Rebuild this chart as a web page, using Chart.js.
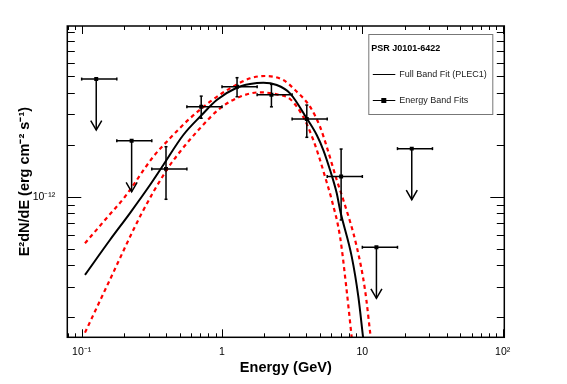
<!DOCTYPE html>
<html>
<head>
<meta charset="utf-8">
<script src="https://cdn.jsdelivr.net/npm/chart.js@4/dist/chart.umd.min.js"></script>
<style>
html, body { margin: 0; padding: 0; background: #fff; }
#wrap { width: 567px; height: 384px; }
</style>
</head>
<body>
<div id="wrap"><canvas id="grafico" width="567" height="384"></canvas></div>
<script>
const ctx = document.getElementById('grafico')

const titulo = 'PSR J0101-6422'

// energy band fits: E (GeV), E2dN/dE (erg cm-2 s-1)
const bandE = [0.399, 0.711, 1.28, 2.25, 4.02, 7.06]
const bandFlux = [1.45e-12, 3.32e-12, 4.34e-12, 3.90e-12, 2.82e-12, 1.31e-12]
const bandFluxLo = [0.966e-12, 2.85e-12, 3.80e-12, 3.32e-12, 2.21e-12, 0.733e-12]
const bandFluxHi = [1.95e-12, 3.83e-12, 4.90e-12, 4.48e-12, 3.40e-12, 1.89e-12]
const bandElo = [0.316, 0.562, 1, 1.78, 3.16, 5.62]
const bandEhi = [0.562, 1, 1.78, 3.16, 5.62, 10]

// upper limits
const ulE = [0.127, 0.227, 12.6, 22.5]
const ulFlux = [4.81e-12, 2.11e-12, 5.09e-13, 1.90e-12]
const ulElo = [0.1, 0.178, 10, 17.8]
const ulEhi = [0.178, 0.316, 17.8, 31.6]

// full band fit (PLEC1)
const fitE = [0.1056, 0.159, 0.221, 0.3067, 0.3816, 0.5299, 0.7167, 0.9167, 1.273, 1.584, 1.970,
  2.454, 3.053, 4.015, 4.732, 5.272, 5.887, 6.572, 6.937, 8.403, 9.365, 10.12]
const fitFlux = [3.52e-13, 5.61e-13, 8.04e-13, 1.169e-12, 1.527e-12, 2.279e-12, 2.976e-12, 3.636e-12, 4.284e-12, 4.50e-12, 4.58e-12,
  4.441e-12, 3.976e-12, 2.848e-12, 2.279e-12, 1.865e-12, 1.428e-12, 1.046e-12, 8.37e-13, 4.49e-13, 2.63e-13, 1.53e-13]

// 1 sigma band
const hiE = [0.1056, 0.1466, 0.2035, 0.3239, 0.4259, 0.5914, 0.8214, 1.140, 1.584, 2.026,
  2.735, 3.314, 4.238, 4.995, 5.576, 6.572, 7.322, 9.122, 10.45, 11.48]
const hiFlux = [5.37e-13, 7.33e-13, 1.0e-12, 1.706e-12, 2.181e-12, 2.848e-12, 3.554e-12, 4.25e-12, 4.858e-12, 5.01e-12,
  4.748e-12, 4.155e-12, 3.325e-12, 2.545e-12, 1.949e-12, 1.25e-12, 9.57e-13, 5.13e-13, 2.88e-13, 1.52e-13]
const loE = [0.1056, 0.1547, 0.2678, 0.4035, 0.5019, 0.697, 0.9676, 1.344, 1.866, 2.454,
  3.053, 3.797, 4.474, 4.995, 5.422, 6.053, 6.937, 7.653, 8.403]
const loFlux = [1.628e-13, 3.148e-13, 8.01e-13, 1.428e-12, 1.823e-12, 2.492e-12, 3.254e-12, 3.80e-12, 4.03e-12, 3.923e-12,
  3.685e-12, 2.897e-12, 2.132e-12, 1.632e-12, 1.306e-12, 9.57e-13, 5.86e-13, 3.08e-13, 1.52e-13]

// axes
const xTicks = [0.1, 1, 10, 100]
const xTickLabels = ['10⁻¹', '1', '10', '10²']
const yTicks = [1e-12]
const yTickLabels = ['10⁻¹²']

const pts = (xs, ys) => xs.map((v, i) => ({x: v, y: ys[i]}))

Chart.defaults.font.family = '"Liberation Sans", Arial, Helvetica, sans-serif'
Chart.defaults.color = '#000'

const linha = (c, x1, y1, x2, y2) => { c.beginPath(); c.moveTo(x1, y1); c.lineTo(x2, y2); c.stroke() }

const moldura = {
  id: 'moldura',
  afterDatasetsDraw(chart) {
    const c = chart.ctx
    const a = chart.chartArea
    const x = chart.scales.x, y = chart.scales.y
    c.save()
    c.strokeStyle = '#000'
    c.lineWidth = 1.5
    // error bars
    bandE.forEach((e, i) => {
      const px = x.getPixelForValue(e), py = y.getPixelForValue(bandFlux[i])
      const x1 = x.getPixelForValue(bandElo[i]), x2 = x.getPixelForValue(bandEhi[i])
      const y1 = y.getPixelForValue(bandFluxHi[i]), y2 = y.getPixelForValue(bandFluxLo[i])
      linha(c, x1, py, x2, py)
      linha(c, px, y1, px, y2)
      linha(c, x1, py - 1.5, x1, py + 1.5)
      linha(c, x2, py - 1.5, x2, py + 1.5)
      linha(c, px - 1.5, y1, px + 1.5, y1)
      linha(c, px - 1.5, y2, px + 1.5, y2)
    })
    // upper limit arrows
    ulE.forEach((e, i) => {
      const px = x.getPixelForValue(e), py = y.getPixelForValue(ulFlux[i])
      const x1 = x.getPixelForValue(ulElo[i]), x2 = x.getPixelForValue(ulEhi[i])
      linha(c, x1, py, x2, py)
      linha(c, x1, py - 1.5, x1, py + 1.5)
      linha(c, x2, py - 1.5, x2, py + 1.5)
      linha(c, px, py, px, py + 51)
      c.beginPath()
      c.moveTo(px - 5.5, py + 41.5)
      c.lineTo(px, py + 51)
      c.lineTo(px + 5.5, py + 41.5)
      c.stroke()
    })

    // frame and ticks on all sides
    c.lineWidth = 1
    for (let d = Math.floor(Math.log10(x.min)); d <= Math.ceil(Math.log10(x.max)); d++) {
      for (let k = 1; k <= 9; k++) {
        const v = k * Math.pow(10, d)
        if (v <= x.min || v >= x.max) continue
        const px = Math.round(x.getPixelForValue(v)) + 0.5
        const len = k === 1 ? 8 : 4
        linha(c, px, a.bottom, px, a.bottom - len)
        linha(c, px, a.top, px, a.top + len)
      }
    }
    for (let d = Math.floor(Math.log10(y.min)); d <= Math.ceil(Math.log10(y.max)); d++) {
      for (let k = 1; k <= 9; k++) {
        const v = k * Math.pow(10, d)
        if (v <= y.min || v >= y.max) continue
        const py = Math.round(y.getPixelForValue(v)) + 0.5
        const len = k === 1 ? 14 : 7.5
        linha(c, a.left, py, a.left + len, py)
        linha(c, a.right, py, a.right - len, py)
      }
    }
    c.lineWidth = 1.5
    c.strokeRect(a.left, a.top, a.right - a.left, a.bottom - a.top)

    // legend box
    const lx = a.right - 136, ly = a.top + 8
    c.fillStyle = '#fff'
    c.fillRect(lx, ly, 124.5, 80.5)
    c.strokeStyle = '#777'
    c.lineWidth = 1
    c.strokeRect(lx + 0.5, ly + 0.5, 124, 80)
    c.fillStyle = '#000'
    c.textBaseline = 'middle'
    c.textAlign = 'left'
    c.font = 'bold 9px "Liberation Sans", Arial, sans-serif'
    c.fillText(titulo, lx + 3, ly + 15)
    c.font = '9px "Liberation Sans", Arial, sans-serif'
    c.fillStyle = '#222'
    c.strokeStyle = '#000'
    const ds = chart.data.datasets
    linha(c, lx + 4.5, ly + 40.5, lx + 27, ly + 40.5)
    c.fillText(ds[0].label, lx + 31, ly + 41)
    linha(c, lx + 4.5, ly + 66.5, lx + 27, ly + 66.5)
    c.fillStyle = '#000'
    c.fillRect(lx + 13, ly + 64, 5, 5)
    c.fillStyle = '#222'
    c.fillText(ds[3].label, lx + 31, ly + 67)
    c.restore()
  }
}

new Chart(ctx, {
  type: 'scatter',
  data: {
    datasets: [{
      label: 'Full Band Fit (PLEC1)',
      data: pts(fitE, fitFlux),
      showLine: true,
      borderColor: '#000',
      borderWidth: 2,
      pointRadius: 0,
      cubicInterpolationMode: 'monotone'
    }, {
      label: 'upper',
      data: pts(hiE, hiFlux),
      showLine: true,
      borderColor: '#ff0000',
      borderWidth: 2.2,
      borderDash: [4, 3.5],
      borderCapStyle: 'butt',
      pointRadius: 0,
      cubicInterpolationMode: 'monotone'
    }, {
      label: 'lower',
      data: pts(loE, loFlux),
      showLine: true,
      borderColor: '#ff0000',
      borderWidth: 2.2,
      borderDash: [4, 3.5],
      borderCapStyle: 'butt',
      pointRadius: 0,
      cubicInterpolationMode: 'monotone'
    }, {
      label: 'Energy Band Fits',
      data: pts(bandE, bandFlux),
      pointStyle: 'rect',
      pointRadius: 2.8,
      backgroundColor: '#000',
      borderColor: '#000',
      borderWidth: 0
    }, {
      label: 'limits',
      data: pts(ulE, ulFlux),
      pointStyle: 'rect',
      pointRadius: 2.8,
      backgroundColor: '#000',
      borderColor: '#000',
      borderWidth: 0
    }]
  },
  options: {
    responsive: false,
    animation: false,
    layout: { padding: { left: 0, top: 26, right: 62.7, bottom: 0 } },
    plugins: { legend: { display: false }, tooltip: { enabled: false } },
    scales: {
      x: {
        type: 'logarithmic',
        position: 'bottom',
        min: 0.079,
        max: 102.7,
        bounds: 'data',
        afterBuildTicks: s => { s.ticks = xTicks.map(v => ({value: v})) },
        afterFit: s => { s.height = 46.7 },
        ticks: {
          autoSkip: false,
          maxRotation: 0,
          padding: 9,
          font: { size: 10.5 },
          color: '#000',
          callback: (v, i) => xTickLabels[i]
        },
        grid: { display: false, drawTicks: false },
        border: { display: false },
        title: {
          display: true,
          text: 'Energy (GeV)',
          color: '#000',
          font: { size: 14.5, weight: 'bold' },
          padding: { top: 0, bottom: 7 }
        }
      },
      y: {
        type: 'logarithmic',
        position: 'left',
        min: 1.53e-13,
        max: 9.77e-12,
        bounds: 'data',
        afterBuildTicks: s => { s.ticks = yTicks.map(v => ({value: v})) },
        afterFit: s => { s.width = 67.3 },
        ticks: {
          autoSkip: false,
          padding: 12,
          font: { size: 10.5 },
          color: '#000',
          callback: (v, i) => yTickLabels[i]
        },
        grid: { display: false, drawTicks: false },
        border: { display: false },
        title: {
          display: true,
          text: 'E²dN/dE (erg cm⁻² s⁻¹)',
          color: '#000',
          font: { size: 14.5, weight: 'bold' },
          padding: { top: 16, bottom: 0 }
        }
      }
    }
  },
  plugins: [moldura]
})
</script>
</body>
</html>
